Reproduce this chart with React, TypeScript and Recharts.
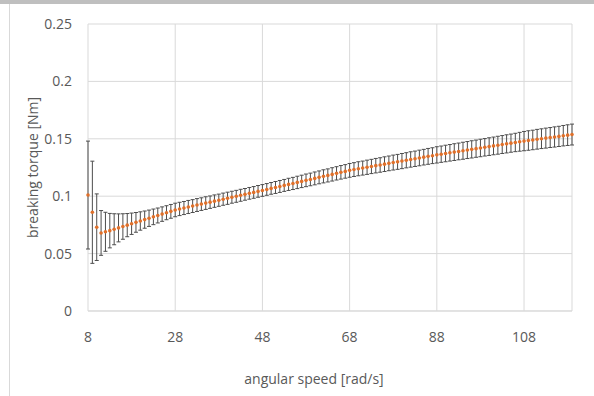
import React from 'react'
import {
  ComposedChart,
  Line,
  XAxis,
  YAxis,
  CartesianGrid,
  ErrorBar,
  Label,
} from 'recharts'

// angular speed [rad/s]
const speeds = [
  8, 9, 10, 11, 12, 13, 14, 15, 16, 17, 18, 19, 20, 21, 22, 23, 24, 25, 26, 27,
  28, 29, 30, 31, 32, 33, 34, 35, 36, 37, 38, 39, 40, 41, 42, 43, 44, 45, 46, 47,
  48, 49, 50, 51, 52, 53, 54, 55, 56, 57, 58, 59, 60, 61, 62, 63, 64, 65, 66, 67,
  68, 69, 70, 71, 72, 73, 74, 75, 76, 77, 78, 79, 80, 81, 82, 83, 84, 85, 86, 87,
  88, 89, 90, 91, 92, 93, 94, 95, 96, 97, 98, 99, 100, 101, 102, 103, 104, 105, 106, 107,
  108, 109, 110, 111, 112, 113, 114, 115, 116, 117, 118, 119,
]

// mean breaking torque [Nm]
const torque = [
  0.101, 0.086, 0.073, 0.068, 0.069, 0.07, 0.0712, 0.0724, 0.0736, 0.0748,
  0.076, 0.0772, 0.0784, 0.0796, 0.0808, 0.082, 0.0832, 0.0844, 0.0856, 0.0868,
  0.088, 0.0889, 0.0897, 0.0906, 0.0914, 0.0923, 0.0931, 0.094, 0.0948, 0.0957,
  0.0965, 0.0974, 0.0982, 0.0991, 0.0999, 0.1008, 0.1016, 0.1025, 0.1033, 0.1042,
  0.105, 0.1059, 0.1068, 0.1076, 0.1085, 0.1094, 0.1103, 0.1111, 0.112, 0.1129,
  0.1138, 0.1146, 0.1155, 0.1164, 0.1173, 0.1181, 0.119, 0.1199, 0.1208, 0.1216,
  0.1225, 0.1232, 0.1239, 0.1245, 0.1252, 0.1259, 0.1266, 0.1272, 0.1279, 0.1286,
  0.1293, 0.1299, 0.1306, 0.1313, 0.132, 0.1326, 0.1333, 0.134, 0.1347, 0.1353,
  0.136, 0.1366, 0.1372, 0.1378, 0.1384, 0.139, 0.1396, 0.1402, 0.1408, 0.1414,
  0.142, 0.1426, 0.1432, 0.1438, 0.1444, 0.145, 0.1456, 0.1462, 0.1468, 0.1474,
  0.148, 0.1485, 0.149, 0.1496, 0.1501, 0.1506, 0.1511, 0.1516, 0.1521, 0.1527,
  0.1532, 0.1537,
]

// +/- spread of each point
const torqueErr = [
  0.047, 0.0445, 0.029, 0.0195, 0.017, 0.015, 0.0135, 0.0122, 0.0111, 0.0101,
  0.0093, 0.0086, 0.008, 0.0075, 0.0071, 0.0068, 0.0065, 0.0063, 0.0061, 0.006,
  0.0059, 0.0058, 0.0057, 0.0057, 0.0056, 0.0056, 0.0055, 0.0055, 0.0054, 0.0054,
  0.0053, 0.0053, 0.0053, 0.0052, 0.0052, 0.0052, 0.0051, 0.0051, 0.0051, 0.0051,
  0.0051, 0.0051, 0.0051, 0.0052, 0.0052, 0.0052, 0.0053, 0.0053, 0.0054, 0.0054,
  0.0055, 0.0055, 0.0056, 0.0056, 0.0057, 0.0057, 0.0058, 0.0058, 0.0059, 0.0059,
  0.006, 0.006, 0.0061, 0.0061, 0.0062, 0.0062, 0.0063, 0.0063, 0.0064, 0.0064,
  0.0065, 0.0065, 0.0066, 0.0066, 0.0067, 0.0067, 0.0068, 0.0068, 0.0069, 0.0069,
  0.0071, 0.0071, 0.0072, 0.0072, 0.0073, 0.0073, 0.0074, 0.0074, 0.0075, 0.0075,
  0.0076, 0.0076, 0.0077, 0.0077, 0.0078, 0.0078, 0.0079, 0.0079, 0.008, 0.0082,
  0.0084, 0.0085, 0.0085, 0.0086, 0.0086, 0.0087, 0.0087, 0.0088, 0.0088, 0.0089,
  0.009, 0.0091,
]

const xTicks = [8, 28, 48, 68, 88, 108]
const yTicks = [0, 0.05, 0.1, 0.15, 0.2, 0.25]

const data = speeds.map((speed, i) => ({
  speed,
  torque: torque[i],
  err: torqueErr[i],
}))

const FONT = '"Open Sans", sans-serif'
const TEXT = '#595959'
const GRID = '#d9d9d9'

const YTitle = ({ viewBox }: any) => {
  const cx = 32
  const cy = viewBox.y + viewBox.height / 2
  return (
    <text
      x={cx}
      y={cy}
      transform={`rotate(-90 ${cx} ${cy})`}
      textAnchor="middle"
      dominantBaseline="central"
      fill={TEXT}
      fontSize={14}
      fontFamily={FONT}
    >
      breaking torque [Nm]
    </text>
  )
}

const XTitle = ({ viewBox }: any) => (
  <text
    x={viewBox.x + viewBox.width / 2 - 16}
    y={378}
    textAnchor="middle"
    dominantBaseline="central"
    fill={TEXT}
    fontSize={14}
    fontFamily={FONT}
  >
    angular speed [rad/s]
  </text>
)

export default function App() {
  return (
    <div
      style={{
        position: 'absolute',
        left: 0,
        top: 0,
        width: 594,
        height: 396,
        background: '#fff',
        overflow: 'hidden',
      }}
    >
      {/* page chrome seen around the pasted chart */}
      <div style={{ position: 'absolute', left: 0, top: 0, width: 594, height: 4, background: '#bfbfbf' }} />
      <div style={{ position: 'absolute', left: 9, top: 4, width: 1, height: 392, background: '#d9d9d9' }} />
      <ComposedChart
        width={594}
        height={396}
        data={data}
        margin={{ top: 24, right: 22, bottom: 25, left: 0 }}
        style={{ position: 'absolute', left: 0, top: 0 }}
      >
        <CartesianGrid stroke={GRID} strokeWidth={1} />
        <XAxis
          dataKey="speed"
          type="number"
          domain={[8, 119]}
          ticks={xTicks}
          height={60}
          tickLine={false}
          tickSize={0}
          tickMargin={21}
          axisLine={{ stroke: GRID }}
          tick={{ fill: TEXT, fontSize: 14, fontFamily: FONT }}
        >
          <Label content={<XTitle />} />
        </XAxis>
        <YAxis
          type="number"
          domain={[0, 0.25]}
          ticks={yTicks}
          width={88}
          tickLine={false}
          tickSize={0}
          tickMargin={16}
          axisLine={false}
          tick={{ fill: TEXT, fontSize: 14, fontFamily: FONT }}
        >
          <Label content={<YTitle />} />
        </YAxis>
        <Line
          dataKey="torque"
          stroke="none"
          isAnimationActive={false}
          dot={{ r: 1.8, fill: '#e0702a', stroke: 'none' }}
          activeDot={false}
        >
          <ErrorBar
            dataKey="err"
            direction="y"
            width={2}
            stroke="#4d4d4d"
            strokeWidth={1}
            isAnimationActive={false}
          />
        </Line>
      </ComposedChart>
    </div>
  )
}
